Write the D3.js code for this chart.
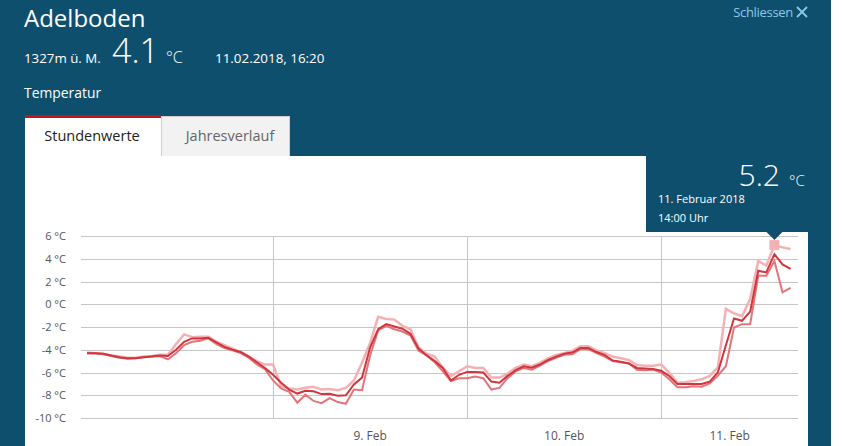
<!DOCTYPE html>
<html>
<head>
<meta charset="utf-8">
<script src="https://d3js.org/d3.v7.min.js"></script>
<style>
  body { margin: 0; background: #fff; }
  svg text { font-family: "Open Sans", "Noto Sans", sans-serif; }
</style>
</head>
<body>
<script>
// hourly values from 8 Feb 2018 01:00 to 11 Feb 2018 16:00
const startHour = new Date(2018, 1, 8, 1)
const darkSeries = [
  -4.3, -4.3, -4.35, -4.5, -4.65, -4.75, -4.75, -4.65, -4.6, -4.5, -4.55, -4.0,
  -3.3, -3.0, -3.0, -2.95, -3.35, -3.75, -4.0, -4.2, -4.6, -5.1, -5.6, -6.2,
  -6.9, -7.5, -7.85, -7.6, -7.65, -7.9, -7.87, -8.05, -8.0, -7.05, -6.45, -3.8,
  -2.2, -1.75, -1.95, -2.15, -2.6, -3.9, -4.5, -5.0, -5.6, -6.7, -6.2, -5.95,
  -5.95, -6.0, -6.8, -6.9, -6.3, -5.8, -5.45, -5.58, -5.3, -4.9, -4.6, -4.35,
  -4.25, -3.85, -3.85, -4.2, -4.45, -4.95, -5.05, -5.2, -5.6, -5.65, -5.7, -5.85,
  -6.3, -7.0, -7.0, -7.0, -7.0, -6.8, -6.0, -3.6, -1.25, -1.45, -0.65, 2.95,
  2.8, 4.4, 3.5, 3.1
]
const midSeries = [
  -4.3, -4.3, -4.4, -4.55, -4.7, -4.8, -4.75, -4.65, -4.6, -4.55, -4.85, -4.3,
  -3.6, -3.3, -3.2, -3.0, -3.5, -3.85, -4.05, -4.3, -4.7, -5.3, -5.7, -6.7,
  -7.4, -7.7, -8.65, -7.95, -8.5, -8.7, -8.25, -8.6, -8.75, -7.5, -7.55, -4.5,
  -2.3, -1.9, -2.2, -2.4, -2.75, -4.1, -4.5, -5.1, -5.9, -6.75, -6.5, -6.5,
  -6.35, -6.5, -7.5, -7.35, -6.5, -5.9, -5.6, -5.75, -5.4, -5.0, -4.7, -4.45,
  -4.4, -3.95, -3.95, -4.3, -4.6, -5.0, -5.1, -5.2, -5.75, -5.8, -5.75, -6.0,
  -6.6, -7.3, -7.3, -7.2, -7.25, -6.95, -6.3, -5.45, -2.05, -1.75, -1.75, 2.5,
  2.5, 3.8, 1.05, 1.45
]
const lightSeries = [
  -4.25, -4.3, -4.35, -4.5, -4.6, -4.7, -4.7, -4.6, -4.55, -4.45, -4.45, -3.5,
  -2.65, -2.9, -2.85, -2.85, -3.3, -3.6, -3.9, -4.2, -4.6, -5.0, -5.3, -5.3,
  -7.2, -7.4, -7.5, -7.35, -7.25, -7.5, -7.45, -7.55, -7.35, -6.7, -5.15, -3.4,
  -1.1, -1.3, -1.35, -1.9, -2.2, -3.8, -4.35, -4.6, -5.6, -6.3, -5.9, -5.45,
  -5.6, -5.6, -6.45, -6.45, -6.1, -5.6, -5.3, -5.45, -5.15, -4.75, -4.45, -4.3,
  -4.1, -3.7, -3.7, -4.05, -4.3, -4.6, -4.75, -4.9, -5.35, -5.4, -5.4, -5.3,
  -6.0, -6.9, -6.85, -6.75, -6.6, -6.3, -5.55, -0.4, -0.8, -1.05, 0.45, 3.8,
  3.4, 5.2, 5.0, 4.85
]
const yTicks = [-10, -8, -6, -4, -2, 0, 2, 4, 6]
const dayLines = [new Date(2018, 1, 9), new Date(2018, 1, 10), new Date(2018, 1, 11)]
const dayLabels = ['9. Feb', '10. Feb', '11. Feb']
const tooltipIndex = 85

const W = 842, H = 446
const blue = '#0f4f6e'

const svg = d3.select('body').append('svg')
  .attr('width', W).attr('height', H)

// page background
svg.append('rect').attr('width', 831).attr('height', H).attr('fill', blue)

// header
svg.append('text').attr('x', 24).attr('y', 27).attr('fill', '#fff')
  .style('font-size', '24px').text('Adelboden')
svg.append('text').attr('x', 24).attr('y', 63).attr('fill', '#fff')
  .style('font-size', '13.3px').text('1327m ü. M.')
svg.append('text').attr('x', 112).attr('y', 63).attr('fill', '#fff')
  .style('font-size', '34px').style('font-weight', 300).text('4.1')
svg.append('text').attr('x', 166).attr('y', 63).attr('fill', '#fff')
  .style('font-size', '16px').style('font-weight', 300).text('°C')
svg.append('text').attr('x', 215).attr('y', 63).attr('fill', '#fff')
  .style('font-size', '13.4px').text('11.02.2018, 16:20')
svg.append('text').attr('x', 24).attr('y', 98).attr('fill', '#fff')
  .style('font-size', '13.9px').text('Temperatur')

const close = svg.append('g')
close.append('text').attr('x', 793).attr('y', 17).attr('text-anchor', 'end')
  .attr('fill', '#8cc8ea').style('font-size', '13px').style('letter-spacing', '-0.3px').text('Schliessen')
close.append('path').attr('d', 'M797,7 L807,17 M807,7 L797,17')
  .attr('stroke', '#8cc8ea').attr('stroke-width', 1.8)

// tabs
svg.append('rect').attr('x', 161.5).attr('y', 116.5).attr('width', 128).attr('height', 40)
  .attr('fill', '#f2f2f2').attr('stroke', '#cfcfcf')
svg.append('text').attr('x', 230).attr('y', 141).attr('text-anchor', 'middle')
  .attr('fill', '#666').style('font-size', '14.5px').text('Jahresverlauf')
svg.append('rect').attr('x', 25).attr('y', 115).attr('width', 136).attr('height', 42).attr('fill', '#fff')
svg.append('rect').attr('x', 25).attr('y', 115).attr('width', 136).attr('height', 3).attr('fill', '#c4151c')
svg.append('text').attr('x', 92).attr('y', 141).attr('text-anchor', 'middle')
  .attr('fill', '#222').style('font-size', '14.5px').text('Stundenwerte')

// white panel
svg.append('rect').attr('x', 25).attr('y', 156).attr('width', 783).attr('height', H - 156).attr('fill', '#fff')

// chart
const x = d3.scaleTime()
  .domain([new Date(2018, 1, 8, 0, 15), new Date(2018, 1, 11, 16, 55)])
  .range([81, 798])
const y = d3.scaleLinear().domain([-10, 6]).range([418, 236])

const hourAt = i => new Date(startHour.getTime() + i * 3600e3)

const grid = svg.append('g')
grid.selectAll('line.h').data(yTicks).join('line')
  .attr('x1', 81).attr('x2', 798)
  .attr('y1', d => Math.round(y(d)) + 0.5).attr('y2', d => Math.round(y(d)) + 0.5)
  .attr('stroke', '#c6c6c6')
grid.selectAll('line.v').data(dayLines).join('line')
  .attr('x1', d => Math.round(x(d)) + 0.5).attr('x2', d => Math.round(x(d)) + 0.5)
  .attr('y1', y(6)).attr('y2', y(-10))
  .attr('stroke', '#c6c6c6')

svg.append('g').selectAll('text').data(yTicks).join('text')
  .attr('x', 66).attr('y', d => y(d) + 4).attr('text-anchor', 'end')
  .attr('fill', '#555').style('font-size', '11px')
  .text(d => d + ' °C')

const xr = x.range()
svg.append('g').selectAll('text').data(dayLines).join('text')
  .attr('x', d => {
    const a = Math.max(x(d), xr[0])
    const b = Math.min(x(d3.timeDay.offset(d, 1)), xr[1])
    return (a + b) / 2
  })
  .attr('y', 440).attr('text-anchor', 'middle')
  .attr('fill', '#555').style('font-size', '12px')
  .text((d, i) => dayLabels[i])

const line = d3.line().x((d, i) => x(hourAt(i))).y(d => y(d))

svg.append('path').datum(lightSeries).attr('d', line)
  .attr('fill', 'none').attr('stroke', '#f4b1b4').attr('stroke-width', 2.5)
svg.append('path').datum(midSeries).attr('d', line)
  .attr('fill', 'none').attr('stroke', '#e3747a').attr('stroke-width', 2)
svg.append('path').datum(darkSeries).attr('d', line)
  .attr('fill', 'none').attr('stroke', '#d0363e').attr('stroke-width', 2)

// tooltip
const tx = x(hourAt(tooltipIndex)), ty = y(lightSeries[tooltipIndex])
svg.append('rect').attr('x', 646).attr('y', 150).attr('width', 162).attr('height', 82).attr('fill', blue)
svg.append('path').attr('d', `M${tx - 8},232 L${tx + 8},232 L${tx},240 Z`).attr('fill', blue)
svg.append('rect').attr('x', tx - 5).attr('y', ty - 5).attr('width', 10).attr('height', 10).attr('fill', '#f4b1b4')
svg.append('text').attr('x', 780).attr('y', 186).attr('text-anchor', 'end').attr('fill', '#fff')
  .style('font-size', '30px').style('font-weight', 300).text(lightSeries[tooltipIndex].toFixed(1))
svg.append('text').attr('x', 789).attr('y', 186).attr('fill', '#fff')
  .style('font-size', '15px').style('font-weight', 300).text('°C')
svg.append('text').attr('x', 658).attr('y', 203).attr('fill', '#fff')
  .style('font-size', '11px').text('11. Februar 2018')
svg.append('text').attr('x', 658).attr('y', 222).attr('fill', '#fff')
  .style('font-size', '11px').text('14:00 Uhr')
</script>
</body>
</html>
